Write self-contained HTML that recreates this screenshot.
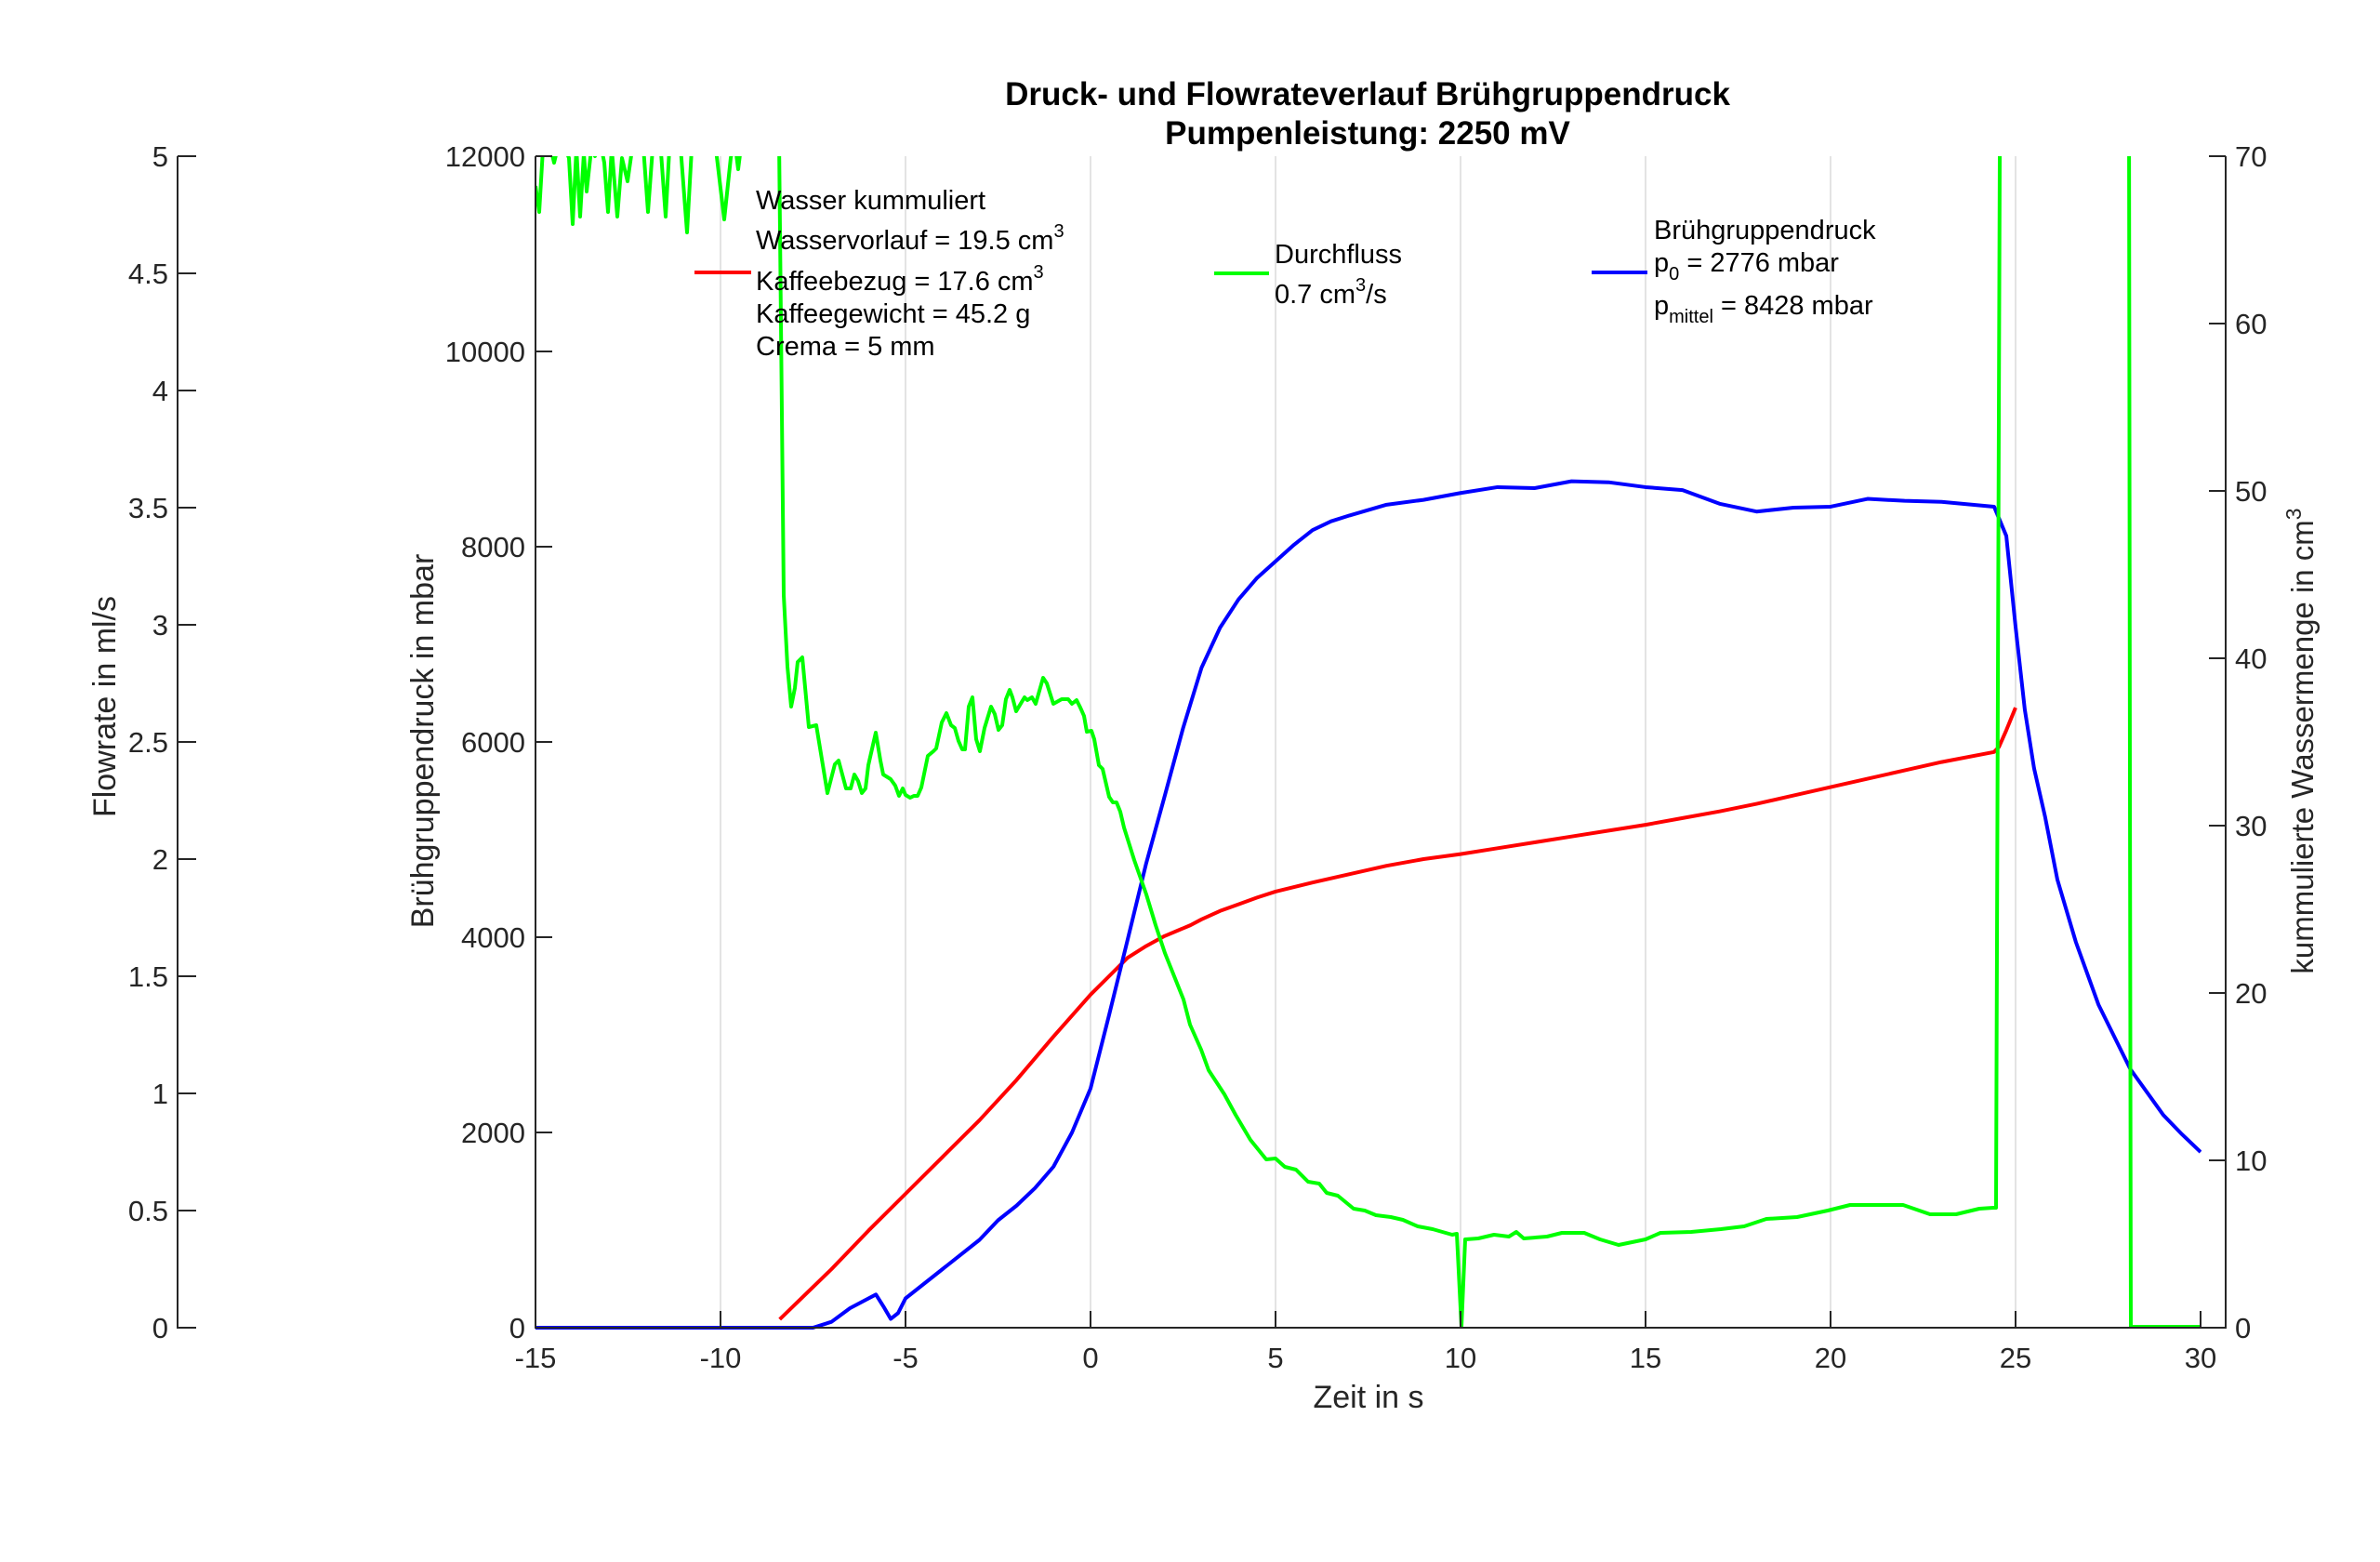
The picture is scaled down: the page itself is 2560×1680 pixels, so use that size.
<!DOCTYPE html>
<html><head><meta charset="utf-8"><style>
html,body{margin:0;padding:0;background:#fff;}
svg{display:block;font-family:"Liberation Sans",sans-serif;}
</style></head><body>
<svg width="2560" height="1680" viewBox="0 0 2560 1680" xmlns="http://www.w3.org/2000/svg">
<defs><clipPath id="pa"><rect x="576" y="168" width="1792" height="1262"/></clipPath></defs>
<rect width="2560" height="1680" fill="#fff"/>
<g stroke="#e3e3e3" stroke-width="2">
<line x1="775" y1="168" x2="775" y2="1428"/><line x1="974" y1="168" x2="974" y2="1428"/>
<line x1="1173" y1="168" x2="1173" y2="1428"/><line x1="1372" y1="168" x2="1372" y2="1428"/>
<line x1="1571" y1="168" x2="1571" y2="1428"/><line x1="1770" y1="168" x2="1770" y2="1428"/>
<line x1="1969" y1="168" x2="1969" y2="1428"/><line x1="2168" y1="168" x2="2168" y2="1428"/>
</g>
<g font-weight="bold" font-size="35" text-anchor="middle" fill="#000">
<text x="1471" y="113">Druck- und Flowrateverlauf Brühgruppendruck</text>
<text x="1471" y="155">Pumpenleistung: 2250 mV</text>
</g>
<g clip-path="url(#pa)" fill="none" stroke-linejoin="round">
<g transform="translate(1173,1428) scale(39.8,-18)">
<polyline vector-effect="non-scaling-stroke" stroke="#ff0000" stroke-width="4" points="-8.4,0.5 -7,3.5 -6,5.8 -5,8.0 -4,10.2 -3,12.4 -2,14.8 -1,17.4 0,19.9 0.5,21.0 1,22.1 1.5,22.8 2,23.4 2.7,24.05 3,24.4 3.5,24.9 4,25.3 4.5,25.7 5,26.06 6,26.6 7,27.1 8,27.6 9,28.0 10,28.3 11,28.65 12,29.0 13,29.35 14,29.7 15,30.05 16,30.45 17,30.85 18,31.3 19,31.8 20,32.3 21,32.8 22,33.3 23,33.8 24.42,34.4 24.55,34.7 24.75,35.7 25,37.05"/>
</g>
<g transform="translate(1173,1428) scale(39.8,-0.105)">
<polyline vector-effect="non-scaling-stroke" stroke="#0000ff" stroke-width="4" points="-15,0 -7.5,0 -7,60 -6.5,200 -6,300 -5.8,340 -5.6,220 -5.4,90 -5.2,150 -5,300 -4,600 -3,900 -2.5,1100 -2,1250 -1.5,1430 -1,1650 -0.5,2000 0,2450 0.5,3200 1,3970 1.5,4750 2,5440 2.5,6140 3,6760 3.5,7170 4,7460 4.5,7680 5,7850 5.5,8020 6,8170 6.5,8260 7,8320 8,8430 9,8480 10,8550 11,8610 12,8600 13,8670 14,8660 15,8610 16,8580 17,8440 18,8360 19,8400 20,8410 21,8490 22,8470 23,8460 24.42,8410 24.75,8110 25,7180 25.25,6330 25.5,5730 25.8,5230 26.13,4590 26.63,3950 27.24,3310 28.1,2650 28.99,2180 29.5,1980 30,1800"/>
</g>
<polyline stroke="#00ff00" stroke-width="4" points="576,200 580,228 584,160 590,150 596,175 602,150 608,160 612,170 616,241 620,160 624,233 628,165 631,206 636,160 640,168 645,150 650,175 654,228 658,160 664,233 669,170 675,195 680,160 686,150 692,158 697,228 702,160 710,150 716,233 720,160 726,150 732,158 739,250 744,160 752,150 760,150 770,160 779,236 786,170 790,150 794,182 798,150 806,100 838,150 843,640 847,717 851,760 855,740 858,712 863,707 870,782 878,780 890,853 898,822 902,818 910,848 915,848 919,833 923,840 927,853 931,848 934,823 942,788 947,818 950,833 958,838 963,845 967,856 971,848 974,855 979,858 983,856 987,856 991,847 998,813 1004,808 1007,805 1013,777 1018,767 1023,780 1027,783 1031,797 1035,806 1038,806 1042,760 1046,750 1050,795 1054,808 1059,783 1066,760 1070,768 1074,785 1078,780 1082,752 1086,742 1089,750 1093,765 1102,750 1105,753 1110,750 1114,757 1122,729 1126,735 1133,757 1142,752 1149,752 1153,757 1158,753 1162,761 1166,770 1169,787 1174,786 1177,795 1182,823 1186,827 1193,857 1197,863 1201,863 1205,873 1209,890 1220,925 1233,962 1243,995 1253,1025 1263,1050 1273,1075 1280,1102 1292,1129 1300,1151 1317,1177 1329,1199 1345,1226 1362,1247 1372,1246 1382,1255 1394,1258 1407,1271 1419,1273 1427,1283 1439,1286 1456,1300 1468,1302 1480,1307 1496,1309 1509,1312 1525,1319 1541,1322 1562,1328 1567,1327 1572,1427 1576,1333 1590,1332 1607,1328 1623,1330 1631,1325 1639,1332 1664,1330 1680,1326 1704,1326 1721,1333 1741,1339 1770,1333 1786,1326 1819,1325 1851,1322 1876,1319 1900,1311 1933,1309 1966,1302 1990,1296 2047,1296 2076,1306 2104,1306 2129,1300 2144,1299 2147,1299 2151,168 2152,100 2290,100 2291,840 2292,1427 2367,1427"/>
</g>
<g stroke="#262626" stroke-width="2" fill="none">
<line x1="576" y1="168" x2="576" y2="1429"/>
<line x1="575" y1="1428" x2="2395" y2="1428"/>
<line x1="2394" y1="168" x2="2394" y2="1429"/>
<line x1="191" y1="168" x2="191" y2="1429"/>
<path d="M576 1428h18M576 1218h18M576 1008h18M576 798h18M576 588h18M576 378h18M576 168h18"/>
<path d="M191 1428h20M191 1302h20M191 1176h20M191 1050h20M191 924h20M191 798h20M191 672h20M191 546h20M191 420h20M191 294h20M191 168h20"/>
<path d="M2394 1428h-18M2394 1248h-18M2394 1068h-18M2394 888h-18M2394 708h-18M2394 528h-18M2394 348h-18M2394 168h-18"/>
<path d="M576 1428v-18M775 1428v-18M974 1428v-18M1173 1428v-18M1372 1428v-18M1571 1428v-18M1770 1428v-18M1969 1428v-18M2168 1428v-18M2367 1428v-18"/>
</g>
<g font-size="31" fill="#262626">
<g text-anchor="end">
<text x="565" y="1439">0</text><text x="565" y="1229">2000</text><text x="565" y="1019">4000</text><text x="565" y="809">6000</text><text x="565" y="599">8000</text><text x="565" y="389">10000</text><text x="565" y="179">12000</text>
<text x="181" y="1439">0</text><text x="181" y="1313">0.5</text><text x="181" y="1187">1</text><text x="181" y="1061">1.5</text><text x="181" y="935">2</text><text x="181" y="809">2.5</text><text x="181" y="683">3</text><text x="181" y="557">3.5</text><text x="181" y="431">4</text><text x="181" y="305">4.5</text><text x="181" y="179">5</text>
</g>
<g text-anchor="start">
<text x="2404" y="1439">0</text><text x="2404" y="1259">10</text><text x="2404" y="1079">20</text><text x="2404" y="899">30</text><text x="2404" y="719">40</text><text x="2404" y="539">50</text><text x="2404" y="359">60</text><text x="2404" y="179">70</text>
</g>
<g text-anchor="middle">
<text x="576" y="1471">-15</text><text x="775" y="1471">-10</text><text x="974" y="1471">-5</text><text x="1173" y="1471">0</text><text x="1372" y="1471">5</text><text x="1571" y="1471">10</text><text x="1770" y="1471">15</text><text x="1969" y="1471">20</text><text x="2168" y="1471">25</text><text x="2367" y="1471">30</text>
<text x="1472" y="1514" font-size="34">Zeit in s</text>
<text transform="translate(124,760) rotate(-90)" font-size="34">Flowrate in ml/s</text>
<text transform="translate(466,797) rotate(-90)" font-size="34">Brühgruppendruck in mbar</text>
<text transform="translate(2488,797) rotate(-90)" font-size="33">kummulierte Wassermenge in cm<tspan dy="-13" font-size="23">3</tspan></text>
</g>
</g>
<g font-size="29" fill="#000">
<line x1="747" y1="293" x2="808" y2="293" stroke="#ff0000" stroke-width="4"/>
<text x="813" y="225">Wasser kummuliert</text>
<text x="813" y="268">Wasservorlauf = 19.5 cm<tspan dy="-13" font-size="20">3</tspan></text>
<text x="813" y="312">Kaffeebezug = 17.6 cm<tspan dy="-13" font-size="20">3</tspan></text>
<text x="813" y="347">Kaffeegewicht = 45.2 g</text>
<text x="813" y="382">Crema = 5 mm</text>
<line x1="1306" y1="294" x2="1365" y2="294" stroke="#00ff00" stroke-width="4"/>
<text x="1371" y="283">Durchfluss</text>
<text x="1371" y="326">0.7 cm<tspan dy="-13" font-size="20">3</tspan><tspan dy="13">/s</tspan></text>
<line x1="1712" y1="293" x2="1772" y2="293" stroke="#0000ff" stroke-width="4"/>
<text x="1779" y="257">Brühgruppendruck</text>
<text x="1779" y="292">p<tspan dy="9" font-size="20">0</tspan><tspan dy="-9"> = 2776 mbar</tspan></text>
<text x="1779" y="338">p<tspan dy="9" font-size="20">mittel</tspan><tspan dy="-9"> = 8428 mbar</tspan></text>
</g>
</svg>
</body></html>
